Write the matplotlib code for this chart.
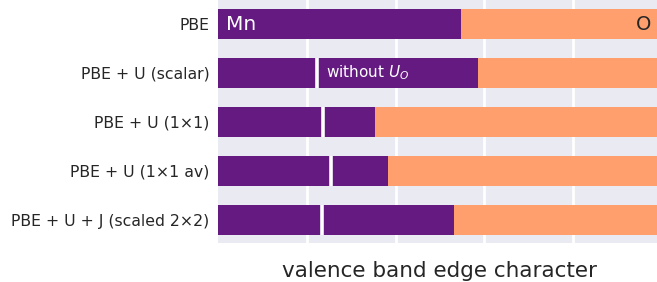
import matplotlib
matplotlib.use("Agg")
import matplotlib.pyplot as plt

categories = ["PBE", "PBE + U (scalar)", "PBE + U (1×1)", "PBE + U (1×1 av)", "PBE + U + J (scaled 2×2)"]
mn_share = [0.547, 0.586, 0.354, 0.383, 0.532]
mn_without_uo = [None, 0.223, 0.236, 0.254, 0.235]

purple = "#641a80"
orange = "#fe9f6d"
bg = "#eaeaf2"

W, H = 657, 282
fig = plt.figure(figsize=(W / 100, H / 100), dpi=100)
ax = fig.add_axes([218 / W, 1 - 243 / H, 444 / W, 243 / H])
ax.set_facecolor(bg)
for s in ax.spines.values():
    s.set_visible(False)

y = list(range(len(categories)))
bh = 0.61
ax.barh(y, [1.0] * len(y), height=bh, color=orange, zorder=2)
ax.barh(y, mn_share, height=bh, color=purple, zorder=3)
for i, v in enumerate(mn_without_uo):
    if v is not None:
        ax.plot([v, v], [i - bh / 2, i + bh / 2], color="white", lw=2.6,
                solid_capstyle="butt", zorder=4)

tc = "#262626"
ax.set_xlim(0, 1)
ax.set_ylim(4.47, -0.49)
ax.set_xticks([0.2, 0.4, 0.6, 0.8])
ax.set_xticklabels([])
ax.tick_params(axis="x", length=0, pad=0)
ax.tick_params(axis="y", length=0, pad=6)
ax.grid(axis="x", color="white", lw=2.0, zorder=1)
ax.set_axisbelow(True)
ax.set_yticks(y)
ax.set_yticklabels(categories, fontsize=11.3, color=tc)

ax.text(0.018, 0, "Mn", color="white", fontsize=14.5, ha="left", va="center", zorder=5)
ax.text(0.975, 0, "O", color=tc, fontsize=14, ha="right", va="center", zorder=5)
ax.text(0.243, 1, "without $U_O$", color="white", fontsize=11, ha="left", va="center", zorder=5)

ax.set_xlabel("valence band edge character", fontsize=15.5, color=tc, labelpad=13)

fig.savefig("out.png", dpi=100)
